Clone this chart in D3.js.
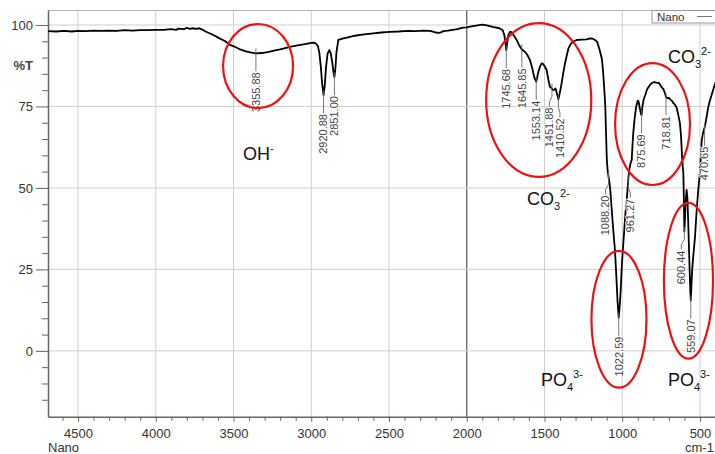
<!DOCTYPE html>
<html>
<head>
<meta charset="utf-8">
<script src="https://cdn.jsdelivr.net/npm/d3@7"></script>
<style>
  body { margin: 0; background: #fff; }
  svg { display: block; font-family: "Liberation Sans", Arial, sans-serif; }
</style>
</head>
<body>
<div id="container"></div>
<script>
/* DATA */
// spectrum, wavenumber (cm-1) and %T
const wavenumber = [
  4693, 4640, 4590, 4540, 4500, 4450, 4400, 4350, 4300, 4250, 4200, 4150, 4100, 4050, 4000,
  3950, 3900, 3870, 3850, 3820, 3800, 3780, 3760, 3740, 3720, 3700, 3680, 3650, 3620, 3590,
  3555, 3523, 3490, 3458, 3420, 3385, 3355.88, 3320, 3280, 3240, 3200, 3137, 3080, 3040, 3008,
  2985, 2970, 2957, 2948, 2938, 2930, 2920.88, 2913, 2905, 2895, 2884, 2874, 2865, 2857, 2851,
  2845, 2838, 2826, 2800, 2764, 2720, 2660, 2600, 2550, 2494, 2440, 2380, 2330, 2280, 2236,
  2200, 2172, 2150, 2120, 2090, 2060, 2024, 2000, 1970, 1930, 1900, 1870, 1833, 1790, 1769,
  1758, 1750, 1745.68, 1740, 1733, 1722, 1711, 1695, 1679, 1663, 1645.85, 1626, 1610, 1594, 1580,
  1566, 1553.14, 1540, 1529, 1518, 1512, 1500, 1486, 1475, 1465, 1451.88, 1444, 1436, 1429, 1420,
  1410.52, 1400, 1390, 1379, 1368, 1356, 1346, 1332, 1318, 1292, 1260, 1230, 1206, 1190, 1175,
  1162, 1148, 1138, 1130, 1122, 1115, 1109, 1103, 1099, 1094, 1088.2, 1082, 1077, 1070, 1060,
  1047, 1038, 1030, 1022.59, 1016, 1010, 1004, 996, 987, 979, 971, 966, 961.27, 955, 947,
  939, 934, 929, 920, 910, 900, 895, 887, 880, 875.69, 870, 862, 854, 840, 822,
  808, 795, 780, 764, 754, 745, 736, 726, 718.81, 710, 700, 690, 682, 672, 660,
  650, 640, 629, 622, 614, 607, 603, 600.44, 597, 592, 586, 581, 576, 571, 566,
  562, 559.07, 555, 550, 545, 532, 520, 511, 500, 494, 489, 480, 470.65, 464, 457,
  448, 438, 425, 414, 404, 390
];
const transmittance = [
  98.1, 98.0, 98.2, 98.0, 98.2, 98.1, 98.3, 98.2, 98.3, 98.2, 98.4, 98.3, 98.4, 98.4, 98.5,
  98.5, 98.7, 98.5, 98.9, 98.7, 99.1, 98.8, 99.0, 98.8, 99.0, 98.6, 98.0, 97.4, 96.7, 95.9,
  95.1, 93.9, 93.3, 92.5, 91.9, 91.5, 91.3, 91.4, 91.7, 92.1, 92.5, 93.3, 93.8, 94.1, 94.4,
  94.6, 94.3, 93.5, 91.5, 87.0, 82.0, 78.5, 81.5, 87.0, 91.2, 92.3, 91.2, 88.5, 85.5, 84.0,
  86.5, 91.5, 95.4, 95.8, 96.2, 96.7, 97.1, 97.4, 97.7, 97.9, 98.0, 98.2, 98.1, 98.3, 98.2,
  97.7, 97.6, 98.1, 98.3, 98.5, 98.7, 99.2, 99.3, 99.6, 99.9, 100.1, 99.9, 99.4, 99.0, 98.4,
  96.9, 94.0, 92.3, 94.5, 96.8, 97.9, 97.8, 96.6, 95.4, 93.8, 92.5, 91.8, 90.8, 89.3, 87.0,
  84.0, 82.6, 85.5, 87.2, 88.2, 88.2, 87.4, 86.2, 83.2, 81.1, 80.5, 80.0, 80.2, 80.5, 79.0,
  77.2, 79.5, 82.1, 85.3, 88.2, 90.8, 92.8, 94.1, 94.9, 95.4, 95.5, 95.6, 95.9, 95.8, 95.4,
  94.9, 92.8, 91.0, 89.3, 85.0, 80.0, 75.0, 65.0, 58.6, 55.5, 53.5, 51.5, 49.5, 45.0, 38.5,
  31.0, 23.0, 15.0, 10.2, 14.0, 18.5, 24.8, 31.0, 37.1, 42.5, 46.3, 49.5, 52.5, 55.5, 57.5,
  58.6, 63.0, 66.9, 71.5, 75.0, 76.8, 76.6, 74.5, 72.8, 72.3, 75.0, 77.2, 78.2, 80.3, 81.6,
  82.2, 82.5, 82.3, 82.2, 81.5, 80.8, 80.4, 79.2, 77.9, 77.6, 77.6, 77.1, 76.8, 76.1, 75.5,
  74.6, 72.5, 69.9, 66.0, 58.6, 54.5, 45.0, 36.6, 40.0, 46.0, 49.4, 47.0, 40.0, 32.0, 24.0,
  18.0, 15.5, 20.0, 25.0, 28.0, 35.0, 44.0, 49.4, 55.0, 60.0, 64.5, 67.0, 68.5, 70.0, 71.9,
  74.5, 76.5, 78.5, 80.3, 81.8, 83.5
];

// picked peaks
const peakWn = [3355.88, 2920.88, 2851.00, 1745.68, 1645.85, 1553.14, 1451.88, 1410.52,
  1088.20, 1022.59, 961.27, 875.69, 718.81, 600.44, 559.07, 470.65];
const peakT = [91.3, 78.5, 84.0, 92.3, 92.5, 82.6, 80.5, 77.2,
  53.5, 10.2, 52.5, 72.3, 77.9, 36.6, 15.5, 68.5];

// ticks
const xMajor = [4500, 4000, 3500, 3000, 2500, 2000, 1500, 1000, 500];
const yMajor = [0, 25, 50, 75, 100];

// band assignments
const ionBase = ["OH", "CO", "CO", "PO", "PO"];
const ionSub = ["", "3", "3", "4", "4"];
const ionSup = ["-", "2-", "2-", "3-", "3-"];

/* CONSTANTS */
const width = 715;
const height = 454;
const plotLeft = 48, plotTop = 10, plotBottom = 416.7;

// sideways nudge (px) of each peak label, same order as peakWn
const labelNudge = [0, 0, 0, 0, 0, 0, -2.5, 1.5, -3, 0, 2, 0, 0, -3, 0, 0];

// where the band names and circles sit (wavenumber, %T)
const ionWn = [3439, 1613, 706, 1523, 706];
const ionT = [58.6, 44.8, 88.3, -10.7, -10.7];
// circles: centre wn, centre %T, half width (wn), half height (%T)
const ringWn = [3342, 1537, 805, 1021, 574];
const ringT = [87.4, 77.0, 69.6, 9.7, 21.5];
const ringHalfWn = [225, 338, 241, 177, 158];
const ringHalfT = [12.9, 23.6, 18.7, 21.0, 23.9];

/* SCALES */
const xScale = d3.scaleLinear()
  .domain([4693, 350])
  .range([plotLeft, 723.3]);

const yScale = d3.scaleLinear()
  .domain([-20.2, 104.6])
  .range([plotBottom, plotTop]);

const svg = d3.select("#container")
  .append("svg")
  .attr("width", width)
  .attr("height", height);

svg.append("clipPath").attr("id", "plot")
  .append("rect")
  .attr("x", plotLeft).attr("y", plotTop)
  .attr("width", width - plotLeft).attr("height", plotBottom - plotTop);

// grid
svg.append("g")
  .selectAll("line")
  .data(xMajor)
  .join("line")
  .attr("x1", d => xScale(d)).attr("x2", d => xScale(d))
  .attr("y1", plotTop).attr("y2", plotBottom)
  .attr("stroke", d => d === 2000 ? "#555" : "#cfcfcf")
  .attr("stroke-width", d => d === 2000 ? 1.2 : 1);

svg.append("g")
  .selectAll("line")
  .data(yMajor)
  .join("line")
  .attr("x1", plotLeft).attr("x2", width)
  .attr("y1", d => yScale(d)).attr("y2", d => yScale(d))
  .attr("stroke", "#cfcfcf");

// top frame
svg.append("line")
  .attr("x1", plotLeft).attr("x2", width)
  .attr("y1", plotTop + 0.5).attr("y2", plotTop + 0.5)
  .attr("stroke", "#b5b5b5");

/* AXES */
const yMinor = d3.range(-15, 105, 5).filter(d => !yMajor.includes(d));
const xMinor = d3.range(4600, 349, -100).filter(d => !xMajor.includes(d));

const yAxisMinor = svg.append("g")
  .attr("transform", `translate(${plotLeft},0)`)
  .call(d3.axisLeft(yScale).tickValues(yMinor).tickSize(6).tickSizeOuter(0).tickFormat(""));
yAxisMinor.select(".domain").remove();

const yAxis = svg.append("g")
  .attr("transform", `translate(${plotLeft},0)`)
  .call(d3.axisLeft(yScale).tickValues(yMajor).tickSize(12).tickSizeOuter(0).tickPadding(3));

const xAxisMinor = svg.append("g")
  .attr("transform", `translate(0,${plotBottom})`)
  .call(d3.axisBottom(xScale).tickValues(xMinor).tickSize(4).tickSizeOuter(0).tickFormat(""));
xAxisMinor.select(".domain").remove();

const xAxis = svg.append("g")
  .attr("transform", `translate(0,${plotBottom})`)
  .call(d3.axisBottom(xScale).tickValues(xMajor).tickSize(5).tickSizeOuter(0)
    .tickPadding(7).tickFormat(d3.format("d")));

svg.selectAll(".tick line, .domain").attr("stroke", "#666");
svg.selectAll(".domain").attr("stroke-width", 1.5);
svg.selectAll(".tick text")
  .attr("font-size", 13)
  .attr("fill", "#333")
  .attr("font-family", "Liberation Sans, Arial, sans-serif");

svg.append("text")
  .attr("x", 33).attr("y", yScale(87.5))
  .attr("text-anchor", "end").attr("dy", "0.35em")
  .attr("font-size", 13).attr("font-weight", "bold").attr("fill", "#444")
  .text("%T");

svg.append("text")
  .attr("x", plotLeft).attr("y", 452)
  .attr("font-size", 13).attr("fill", "#333")
  .text("Nano");

svg.append("text")
  .attr("x", 685).attr("y", 452)
  .attr("font-size", 13).attr("fill", "#333")
  .text("cm-1");

/* SPECTRUM */
const spectrum = d3.zip(wavenumber, transmittance);

const line = d3.line()
  .x(d => xScale(d[0]))
  .y(d => yScale(d[1]));

svg.append("path")
  .datum(spectrum)
  .attr("clip-path", "url(#plot)")
  .attr("fill", "none")
  .attr("stroke", "#000")
  .attr("stroke-width", 1.8)
  .attr("stroke-linejoin", "round")
  .attr("d", line);

// peak labels
const peaks = peakWn.map((wn, i) => ({ wn, t: peakT[i], dx: labelNudge[i] }));
const gap = 19;

svg.append("g")
  .selectAll("path")
  .data(peaks)
  .join("path")
  .attr("d", d => {
    const x = xScale(d.wn), y = yScale(d.t);
    return `M${x},${y - 5}V${y + 8}L${x + d.dx},${y + 13}V${y + gap - 1}`;
  })
  .attr("fill", "none")
  .attr("stroke", "#666")
  .attr("stroke-width", 0.9);

svg.append("g")
  .selectAll("text")
  .data(peaks)
  .join("text")
  .attr("transform", d => `translate(${xScale(d.wn) + d.dx},${yScale(d.t) + gap}) rotate(-90)`)
  .attr("text-anchor", "end")
  .attr("dy", "0.35em")
  .attr("font-size", 11)
  .attr("fill", "#444")
  .attr("stroke", "#fff").attr("stroke-width", 1.5).attr("paint-order", "stroke")
  .text(d => d.wn.toFixed(2));

/* ANNOTATIONS */
const rings = d3.range(ringWn.length);
svg.append("g")
  .selectAll("ellipse")
  .data(rings)
  .join("ellipse")
  .attr("cx", i => xScale(ringWn[i]))
  .attr("cy", i => yScale(ringT[i]))
  .attr("rx", i => xScale(ringWn[i] - ringHalfWn[i]) - xScale(ringWn[i]))
  .attr("ry", i => yScale(ringT[i] - ringHalfT[i]) - yScale(ringT[i]))
  .attr("fill", "none")
  .attr("stroke", "#ee1111")
  .attr("stroke-width", 2.2);

const ions = svg.append("g")
  .selectAll("text")
  .data(d3.range(ionBase.length))
  .join("text")
  .attr("x", i => xScale(ionWn[i]))
  .attr("y", i => yScale(ionT[i]))
  .attr("font-size", 18)
  .attr("fill", "#111");

ions.append("tspan").text(i => ionBase[i]);
ions.append("tspan")
  .attr("font-size", 11)
  .attr("dy", i => ionSub[i] ? 5 : 0)
  .text(i => ionSub[i]);
ions.append("tspan")
  .attr("font-size", 11)
  .attr("dy", i => ionSub[i] ? -13 : -8)
  .text(i => ionSup[i]);

/* LEGEND */
const legend = svg.append("g");
legend.append("rect")
  .attr("x", 652).attr("y", plotTop + 0.5)
  .attr("width", 70).attr("height", 12.5)
  .attr("fill", "#fff")
  .attr("stroke", "#999");
legend.append("text")
  .attr("x", 657).attr("y", 21)
  .attr("font-size", 11.5).attr("fill", "#333")
  .text("Nano");
legend.append("line")
  .attr("x1", 697).attr("x2", 712)
  .attr("y1", 16.5).attr("y2", 16.5)
  .attr("stroke", "#777");
</script>
</body>
</html>
